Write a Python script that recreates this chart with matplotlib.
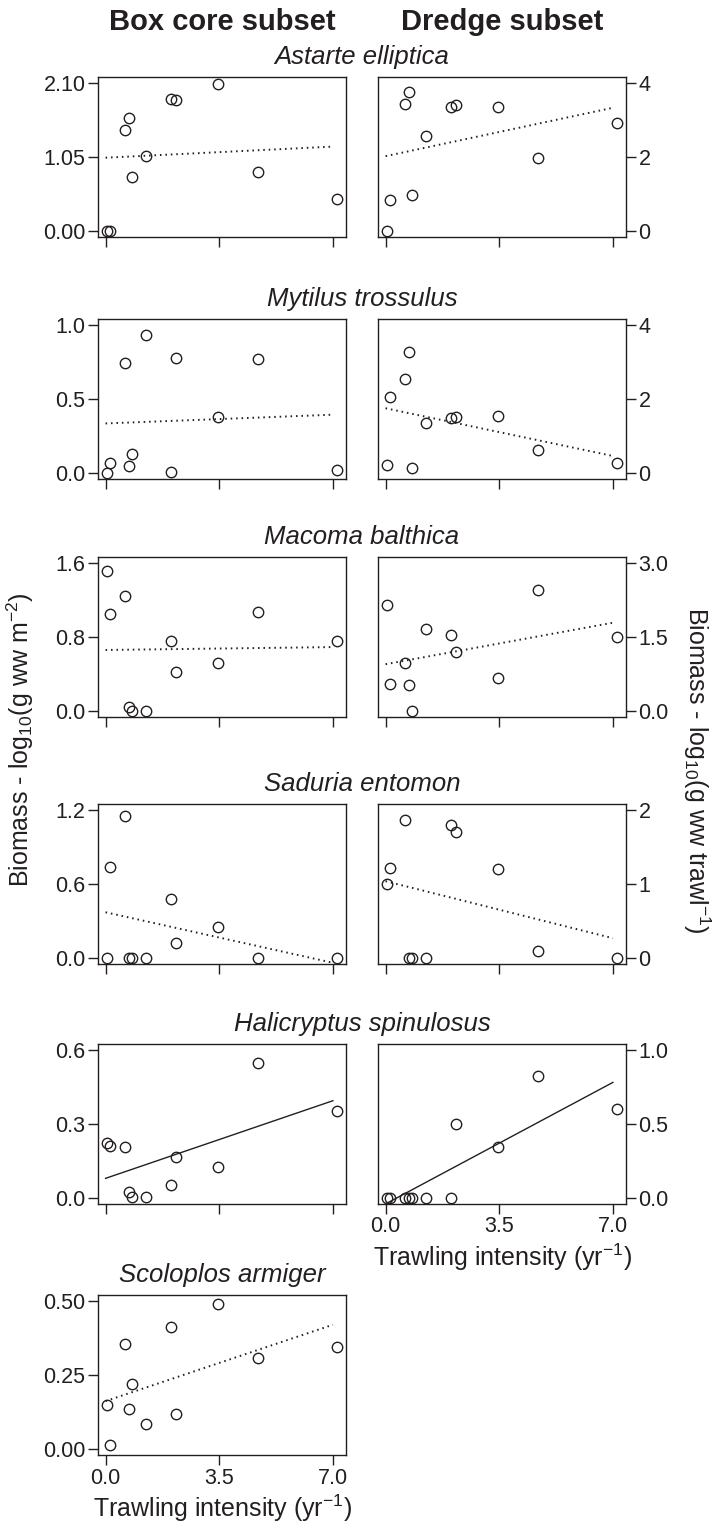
import numpy as np
import matplotlib
matplotlib.use('Agg')
import matplotlib.pyplot as plt

plt.rcParams['font.family'] = ['Liberation Sans', 'DejaVu Sans']
plt.rcParams['mathtext.fontset'] = 'custom'
plt.rcParams['mathtext.rm'] = 'Liberation Sans'
plt.rcParams['mathtext.it'] = 'Liberation Sans:italic'
plt.rcParams['mathtext.default'] = 'regular'

INK = '#231f20'

# trawling intensity (yr^-1) of the 11 stations
trawl = [0.05, 0.15, 0.61, 0.73, 0.81, 1.24, 2.02, 2.16, 3.46, 4.70, 7.12]

species = ['Astarte elliptica', 'Mytilus trossulus', 'Macoma balthica',
           'Saduria entomon', 'Halicryptus spinulosus', 'Scoloplos armiger']

# box core biomass, log10(g ww m^-2)
astarte_box = [0.00, 0.00, 1.43, 1.60, 0.76, 1.06, 1.87, 1.86, 2.09, 0.84, 0.45]
mytilus_box = [0.00, 0.07, 0.74, 0.05, 0.13, 0.93, 0.01, 0.78, 0.38, 0.77, 0.02]
macoma_box = [1.51, 1.05, 1.245, 0.04, 0.00, 0.00, 0.757, 0.42, 0.517, 1.065, 0.757]
saduria_box = [0.00, 0.737, 1.147, 0.00, 0.00, 0.00, 0.479, 0.12, 0.25, 0.00, 0.00]
halicryptus_box = [0.225, 0.21, 0.206, 0.023, 0.003, 0.003, 0.052, 0.165, 0.125, 0.548, 0.354]
scoloplos_box = [0.149, 0.014, 0.356, 0.136, 0.219, 0.083, 0.412, 0.117, 0.490, 0.309, 0.344]

# dredge biomass, log10(g ww trawl^-1)
astarte_dr = [0.00, 0.83, 3.44, 3.76, 0.97, 2.57, 3.34, 3.40, 3.36, 1.96, 2.92]
mytilus_dr = [0.21, 2.05, 2.53, 3.27, 0.14, 1.35, 1.50, 1.52, 1.54, 0.63, 0.27]
macoma_dr = [2.14, 0.54, 0.97, 0.53, 0.00, 1.67, 1.535, 1.19, 0.67, 2.46, 1.50]
saduria_dr = [1.00, 1.217, 1.866, 0.00, 0.00, 0.00, 1.80, 1.70, 1.20, 0.10, 0.00]
halicryptus_dr = [0.00, 0.00, 0.00, 0.00, 0.00, 0.00, 0.00, 0.498, 0.345, 0.824, 0.60]

box_series = [astarte_box, mytilus_box, macoma_box, saduria_box, halicryptus_box, scoloplos_box]
dr_series = [astarte_dr, mytilus_dr, macoma_dr, saduria_dr, halicryptus_dr, None]

box_ticks = [[0, 1.05, 2.10], [0, 0.5, 1.0], [0, 0.8, 1.6],
             [0, 0.6, 1.2], [0, 0.3, 0.6], [0, 0.25, 0.50]]
box_labels = [['0.00', '1.05', '2.10'], ['0.0', '0.5', '1.0'], ['0.0', '0.8', '1.6'],
              ['0.0', '0.6', '1.2'], ['0.0', '0.3', '0.6'], ['0.00', '0.25', '0.50']]
dr_ticks = [[0, 2, 4], [0, 2, 4], [0, 1.5, 3.0], [0, 1, 2], [0, 0.5, 1.0]]
dr_labels = [['0', '2', '4'], ['0', '2', '4'], ['0.0', '1.5', '3.0'],
             ['0', '1', '2'], ['0.0', '0.5', '1.0']]

# significant fits drawn solid, the rest dotted
significant = [False, False, False, False, True, False]
sig_dredge = [False, False, False, False, True]

x_ticks = [0, 3.5, 7.0]
x_ticklabels = ['0.0', '3.5', '7.0']

# layout in pixels
W, H = 712, 1523
col_left = [98, 378]
panel_w, panel_h = 248, 160
row_top = [77, 319, 557, 804, 1044, 1295]


def pad_lim(lo, hi, frac=0.04):
    d = (hi - lo) * frac
    return lo - d, hi + d


def make_panel(fig, left, top):
    return fig.add_axes([left / W, 1 - (top + panel_h) / H, panel_w / W, panel_h / H])


def draw(ax, y, ticks, labels, solid, right=False, bottom=False):
    x = np.array(trawl)
    y = np.array(y)
    ax.plot(x, y, 'o', ms=7.5, mfc='none', mec=INK, mew=1.0, zorder=3)
    slope, icpt = np.polyfit(x, y, 1)
    xf = np.array([0.0, 7.0])
    ax.plot(xf, icpt + slope * xf, color=INK,
            lw=1.0 if solid else 1.4,
            ls='-' if solid else (0, (0.8, 2.0)), zorder=2)

    ax.set_xlim(pad_lim(min(trawl), max(trawl)))
    ax.set_ylim(pad_lim(ticks[0], ticks[-1]))
    ax.set_yticks(ticks)
    ax.set_yticklabels(labels)
    ax.set_xticks(x_ticks)
    if bottom:
        ax.set_xticklabels(x_ticklabels)
        ax.set_xlabel('Trawling intensity (yr$^{-1}$)', fontsize=18, color=INK, labelpad=3)
    else:
        ax.set_xticklabels([])
    if right:
        ax.yaxis.tick_right()
    for s in ax.spines.values():
        s.set_color(INK)
        s.set_linewidth(1.0)
    ax.tick_params(direction='out', length=7, width=1.0, color=INK,
                   labelcolor=INK, labelsize=15.5, pad=2)


fig = plt.figure(figsize=(W / 100, H / 100), dpi=100)

for i, name in enumerate(species):
    top = row_top[i]
    ax = make_panel(fig, col_left[0], top)
    draw(ax, box_series[i], box_ticks[i], box_labels[i], significant[i],
         bottom=(i == len(species) - 1))
    if dr_series[i] is not None:
        ax2 = make_panel(fig, col_left[1], top)
        draw(ax2, dr_series[i], dr_ticks[i], dr_labels[i], sig_dredge[i],
             right=True, bottom=(i == len(species) - 2))
        tx = (col_left[0] + col_left[1] + panel_w) / 2
    else:
        tx = col_left[0] + panel_w / 2
    fig.text(tx / W, 1 - (top - 20) / H, name, ha='center', va='center',
             style='italic', fontsize=18.5, color=INK)

# column headings
fig.text((col_left[0] + panel_w / 2) / W, 1 - 22 / H, 'Box core subset',
         ha='center', va='center', fontsize=21, weight='bold', color=INK)
fig.text((col_left[1] + panel_w / 2) / W, 1 - 22 / H, 'Dredge subset',
         ha='center', va='center', fontsize=21, weight='bold', color=INK)

# shared y labels
fig.text(20 / W, 1 - 740 / H, 'Biomass - log$_{10}$(g ww m$^{-2}$)',
         ha='center', va='center', rotation=90, fontsize=18, color=INK)
fig.text(697 / W, 1 - 770 / H, 'Biomass - log$_{10}$(g ww trawl$^{-1}$)',
         ha='center', va='center', rotation=270, fontsize=18, color=INK)

fig.savefig('out.png', dpi=100)
